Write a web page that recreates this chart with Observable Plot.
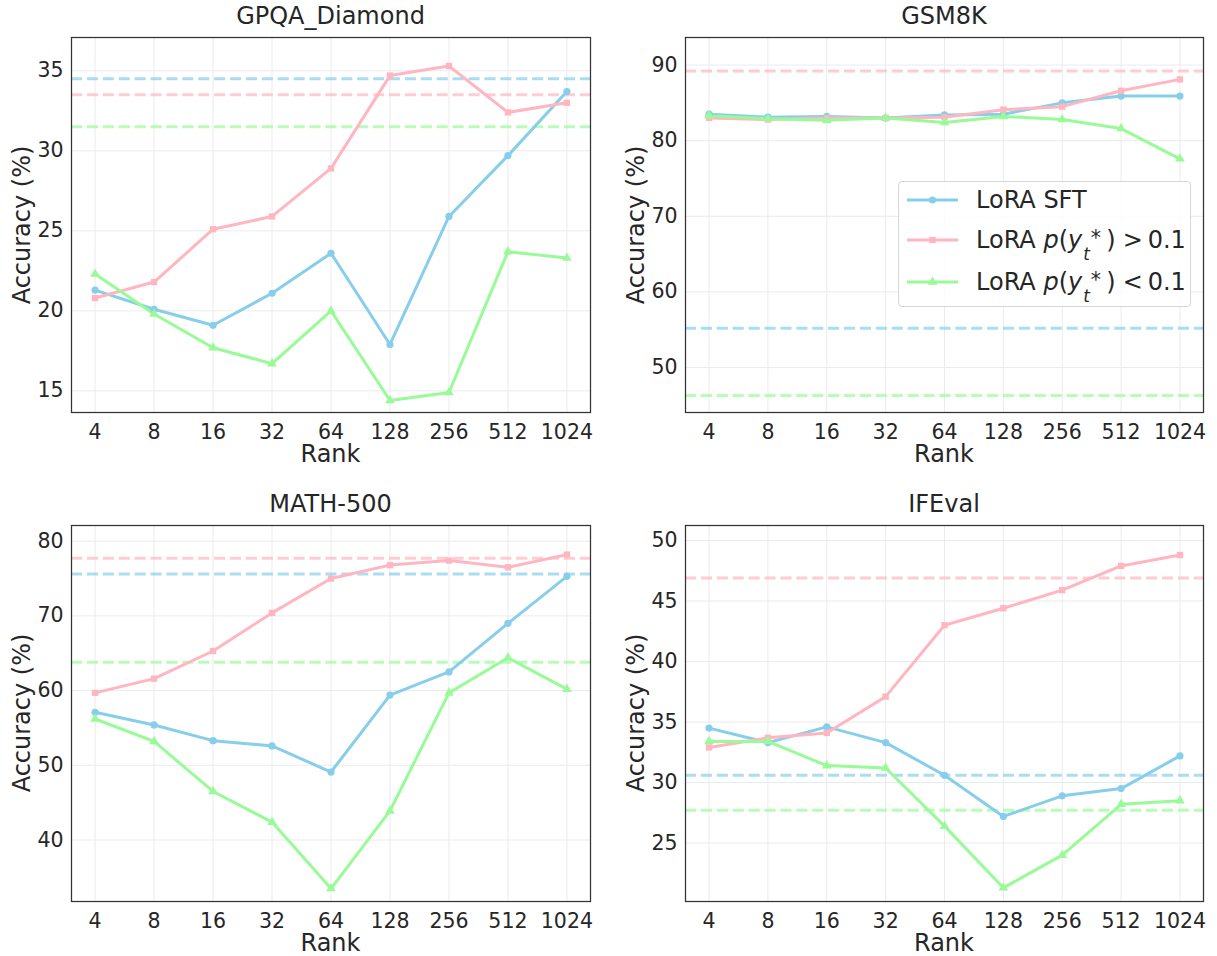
<!DOCTYPE html>
<html>
<head>
<meta charset="utf-8">
<script src="https://cdn.jsdelivr.net/npm/d3@7"></script>
<script src="https://cdn.jsdelivr.net/npm/@observablehq/plot@0.6"></script>
<style>
  body { margin: 0; background: #fff; }
  #root { position: relative; width: 1217px; height: 956px; font-family: "DejaVu Sans", sans-serif; color: #262626; overflow: hidden; background: #fff; }
  .panel { position: absolute; }
  .t { position: absolute; white-space: nowrap; line-height: 0.75; transform: translate(-50%, -50%); }
  .title { font-size: 24px; }
  .xl { font-size: 24px; }
  .yl { font-size: 24px; transform: translate(-50%, -50%) rotate(-90deg); }
  #legend { position: absolute; left: 898px; top: 181px; width: 293px; height: 126px; box-sizing: border-box;
            border: 1px solid #d6d6d6; border-radius: 4px; background: rgba(255,255,255,0.85); }
  .lrow { position: absolute; left: 0; height: 0; }
  .lrow svg { position: absolute; left: 8px; top: -7px; }
  .ltxt { position: absolute; left: 77px; top: 0; font-size: 24px; line-height: 1; white-space: nowrap; transform: translateY(-50%); }
  .ss { display: inline-block; position: relative; width: 1.0em; height: 0; vertical-align: baseline; }
  .sup { position: absolute; left: 0.42em; top: -0.97em; font-size: 0.85em; line-height: 1; font-style: normal; }
  .sub { position: absolute; left: 0.06em; top: -0.1em; font-size: 0.7em; line-height: 1; }
  .op { margin: 0 0.2em 0 0.3em; }
</style>
</head>
<body>
<div id="root"></div>
<script>
// ---------- data ----------
const ranks = ["4", "8", "16", "32", "64", "128", "256", "512", "1024"];
const seriesNames = ["LoRA SFT", "LoRA p>0.1", "LoRA p<0.1"];
const seriesColors = ["#87CEEB", "#FFB6C1", "#98FB98"];
const seriesSymbols = ["circle", "square", "triangle"];

// GPQA_Diamond
const gpqaSft  = [21.3, 20.1, 19.1, 21.1, 23.6, 17.9, 25.9, 29.7, 33.7];
const gpqaHigh = [20.8, 21.8, 25.1, 25.9, 28.9, 34.7, 35.3, 32.4, 33.0];
const gpqaLow  = [22.3, 19.8, 17.7, 16.7, 20.0, 14.4, 14.9, 23.7, 23.3];
const gpqaBase = [34.5, 33.5, 31.5];
const gpqaTicks = [15, 20, 25, 30, 35];

// GSM8K
const gsmSft  = [83.5, 83.1, 83.2, 83.0, 83.4, 83.5, 85.0, 85.9, 85.9];
const gsmHigh = [83.0, 82.8, 83.0, 83.0, 83.1, 84.1, 84.5, 86.6, 88.1];
const gsmLow  = [83.3, 82.9, 82.7, 83.0, 82.4, 83.2, 82.8, 81.6, 77.6];
const gsmBase = [55.2, 89.2, 46.3];
const gsmTicks = [50, 60, 70, 80, 90];

// MATH-500
const mathSft  = [57.1, 55.4, 53.3, 52.6, 49.1, 59.4, 62.5, 69.0, 75.3];
const mathHigh = [59.7, 61.6, 65.3, 70.4, 75.0, 76.8, 77.4, 76.5, 78.2];
const mathLow  = [56.2, 53.2, 46.5, 42.4, 33.5, 43.9, 59.7, 64.4, 60.2];
const mathBase = [75.6, 77.7, 63.8];
const mathTicks = [40, 50, 60, 70, 80];

// IFEval
const ifSft  = [34.5, 33.3, 34.6, 33.3, 30.6, 27.2, 28.9, 29.5, 32.2];
const ifHigh = [32.9, 33.7, 34.1, 37.1, 43.0, 44.4, 45.9, 47.9, 48.8];
const ifLow  = [33.4, 33.4, 31.4, 31.2, 26.4, 21.3, 24.0, 28.2, 28.5];
const ifBase = [30.6, 46.9, 27.7];
const ifTicks = [25, 30, 35, 40, 45, 50];

// ---------- layout ----------
const panels = [
  {title: "GPQA_Diamond", vals: [gpqaSft, gpqaHigh, gpqaLow], base: gpqaBase, ticks: gpqaTicks, dom: [13.65, 37.08],
   left: 0, top: 0, w: 600, h: 470, ml: 71, mr: 10, mt: 37, mb: 58},
  {title: "GSM8K", vals: [gsmSft, gsmHigh, gsmLow], base: gsmBase, ticks: gsmTicks, dom: [44.06, 93.64],
   left: 610, top: 0, w: 607, h: 470, ml: 75, mr: 14, mt: 37, mb: 58},
  {title: "MATH-500", vals: [mathSft, mathHigh, mathLow], base: mathBase, ticks: mathTicks, dom: [31.77, 82.1],
   left: 0, top: 470, w: 600, h: 486, ml: 71, mr: 10, mt: 55, mb: 55},
  {title: "IFEval", vals: [ifSft, ifHigh, ifLow], base: ifBase, ticks: ifTicks, dom: [20.17, 51.24],
   left: 610, top: 470, w: 607, h: 486, ml: 75, mr: 14, mt: 55, mb: 55}
];

const root = document.getElementById("root");
const idx = d3.range(ranks.length);

function addText(cls, txt, x, y) {
  const d = document.createElement("div");
  d.className = "t " + cls;
  d.textContent = txt;
  d.style.left = x + "px";
  d.style.top = y + "px";
  root.appendChild(d);
}

panels.forEach(p => {
  const rows = seriesNames.flatMap((s, k) => p.vals[k].map((v, i) => ({i, v, s})));
  const baseRows = seriesNames.map((s, k) => ({s, v: p.base[k]}));
  const chart = Plot.plot({
    width: p.w, height: p.h,
    marginLeft: p.ml, marginRight: p.mr, marginTop: p.mt, marginBottom: p.mb,
    style: {fontFamily: "DejaVu Sans", fontSize: "20.5px", color: "#262626", background: "transparent", overflow: "visible"},
    x: {type: "linear", domain: [-0.4, 8.4]},
    y: {domain: p.dom},
    color: {domain: seriesNames, range: seriesColors},
    symbol: {domain: seriesNames, range: seriesSymbols},
    marks: [
      Plot.gridX(idx, {stroke: "#ebebeb", strokeOpacity: 1, strokeWidth: 1}),
      Plot.gridY(p.ticks, {stroke: "#ebebeb", strokeOpacity: 1, strokeWidth: 1}),
      Plot.ruleY(baseRows, {y: "v", stroke: "s", strokeOpacity: 0.7, strokeWidth: 3, strokeDasharray: "11.1,4.8"}),
      Plot.line(rows, {x: "i", y: "v", z: "s", stroke: "s", strokeWidth: 3}),
      Plot.dot(rows, {x: "i", y: "v", symbol: "s", fill: "s", r: 3.6}),
      Plot.frame({stroke: "#333", strokeWidth: 1.25}),
      Plot.axisX(idx, {tickFormat: i => ranks[i], tickSize: 0, tickPadding: 12, label: null}),
      Plot.axisY(p.ticks, {tickSize: 0, tickPadding: 8, label: null})
    ]
  });
  const wrap = document.createElement("div");
  wrap.className = "panel";
  wrap.style.left = p.left + "px";
  wrap.style.top = p.top + "px";
  wrap.appendChild(chart);
  root.appendChild(wrap);

  const fx0 = p.left + p.ml, fx1 = p.left + p.w - p.mr;
  const fy0 = p.top + p.mt, fy1 = p.top + p.h - p.mb;
  const cx = (fx0 + fx1) / 2;
  addText("title", p.title, cx, fy0 - 21.5);
  addText("xl", "Rank", cx, fy1 + 42);
  addText("yl", "Accuracy (%)", fx0 - 49.5, (fy0 + fy1) / 2);
});

// ---------- legend ----------
const legend = document.createElement("div");
legend.id = "legend";
const labelsHtml = [
  "LoRA SFT",
  'LoRA <i>p</i>(<i>y</i><span class="ss"><span class="sup">*</span><span class="sub"><i>t</i></span></span>)<span class="op">&gt;</span>0.1',
  'LoRA <i>p</i>(<i>y</i><span class="ss"><span class="sup">*</span><span class="sub"><i>t</i></span></span>)<span class="op">&lt;</span>0.1'
];
const rowY = [18, 58, 100];
seriesNames.forEach((s, k) => {
  const row = document.createElement("div");
  row.className = "lrow";
  row.style.top = rowY[k] + "px";
  const svg = d3.create("svg").attr("width", 52).attr("height", 14);
  svg.append("line").attr("x1", 0).attr("x2", 51).attr("y1", 7).attr("y2", 7)
    .attr("stroke", seriesColors[k]).attr("stroke-width", 3);
  const sym = {circle: d3.symbolCircle, square: d3.symbolSquare, triangle: d3.symbolTriangle}[seriesSymbols[k]];
  svg.append("path").attr("transform", "translate(25.5,7)")
    .attr("d", d3.symbol(sym, Math.PI * 3.6 * 3.6)()).attr("fill", seriesColors[k]);
  row.appendChild(svg.node());
  const t = document.createElement("div");
  t.className = "ltxt";
  t.innerHTML = labelsHtml[k];
  row.appendChild(t);
  legend.appendChild(row);
});
root.appendChild(legend);
</script>
</body>
</html>
